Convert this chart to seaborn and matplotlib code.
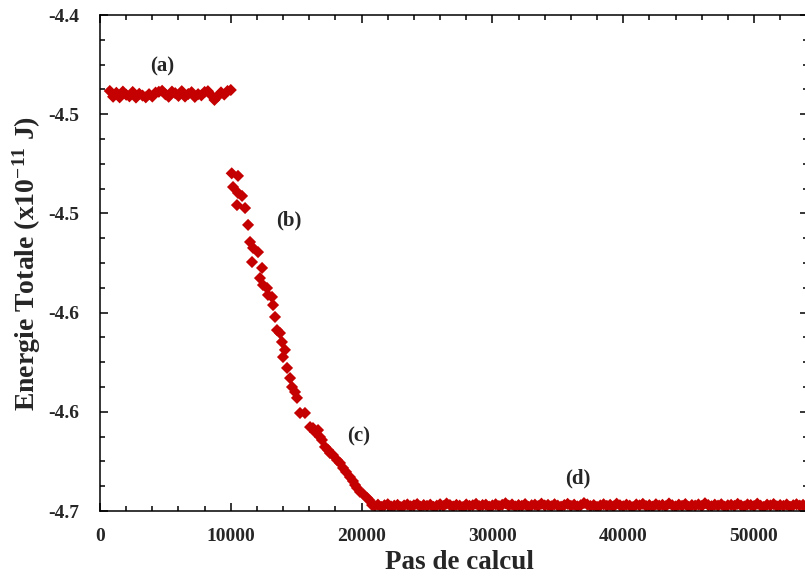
import numpy as np
import pandas as pd
import matplotlib
matplotlib.use('Agg')
import matplotlib.pyplot as plt
from matplotlib.ticker import MultipleLocator, FixedLocator
import seaborn as sns

# (a) equilibre initial, pas de 250
a_x = np.arange(750, 10001, 250)
a_y = [-4.4383, -4.4412, -4.4392, -4.4415, -4.4386, -4.4402, -4.4410, -4.4388, -4.4416, -4.4397,
       -4.4406, -4.4415, -4.4399, -4.4411, -4.4391, -4.4387, -4.4382, -4.4400, -4.4412, -4.4386,
       -4.4394, -4.4408, -4.4384, -4.4411, -4.4398, -4.4389, -4.4413, -4.4399, -4.4405, -4.4388,
       -4.4384, -4.4404, -4.4428, -4.4410, -4.4390, -4.4401, -4.4383, -4.4378]

# (b)-(c) descente
desc_x = [10070, 10550, 10170, 10550, 10860, 10470, 11090, 11320, 11470, 11700,
          12080, 11620, 12390, 12230, 12460, 12770, 12840, 13150, 13230, 13380,
          13530, 13760, 13910, 13990, 14140, 14300, 14530, 14680, 14910, 15060,
          15290, 15670, 16060, 16280, 16440, 16670, 16820, 16970, 17200, 17430,
          17580, 17810, 18120, 18350, 18580, 18810, 19110, 19340, 19500, 19650,
          19880, 20110, 20410, 20570, 20800]
desc_y = [-4.4798, -4.4811, -4.4867, -4.4897, -4.4912, -4.4958, -4.4973, -4.5058, -4.5144, -4.5174,
          -4.5195, -4.5245, -4.5275, -4.5326, -4.5361, -4.5376, -4.5411, -4.5421, -4.5462, -4.5522,
          -4.5588, -4.5603, -4.5648, -4.5724, -4.5688, -4.5779, -4.5830, -4.5875, -4.5900, -4.5930,
          -4.6006, -4.6006, -4.6077, -4.6082, -4.6102, -4.6092, -4.6127, -4.6142, -4.6177, -4.6192,
          -4.6208, -4.6218, -4.6243, -4.6258, -4.6283, -4.6303, -4.6329, -4.6349, -4.6369, -4.6384,
          -4.6404, -4.6414, -4.6434, -4.6444, -4.6470]

# (d) equilibre final, pas de 250
d_x = np.arange(21000, 54001, 250)
d_y = [-4.6474, -4.6468, -4.6479, -4.6471, -4.6466, -4.6477, -4.6473, -4.6469, -4.6480, -4.6472,
       -4.6467, -4.6476, -4.6471, -4.6465, -4.6478, -4.6470, -4.6474, -4.6468, -4.6479, -4.6473,
       -4.6466, -4.6475, -4.6462, -4.6470, -4.6477, -4.6469, -4.6473, -4.6480, -4.6467, -4.6474,
       -4.6471, -4.6464, -4.6476, -4.6470, -4.6468, -4.6478, -4.6472, -4.6466, -4.6475, -4.6469,
       -4.6461, -4.6473, -4.6467, -4.6477, -4.6470, -4.6474, -4.6465, -4.6479, -4.6471, -4.6468,
       -4.6475, -4.6463, -4.6472, -4.6469, -4.6476, -4.6466, -4.6473, -4.6478, -4.6470, -4.6464,
       -4.6474, -4.6468, -4.6477, -4.6471, -4.6460, -4.6467, -4.6475, -4.6470, -4.6479, -4.6472,
       -4.6466, -4.6474, -4.6469, -4.6477, -4.6463, -4.6471, -4.6476, -4.6468, -4.6473, -4.6480,
       -4.6467, -4.6472, -4.6464, -4.6475, -4.6470, -4.6478, -4.6466, -4.6473, -4.6469, -4.6476,
       -4.6462, -4.6471, -4.6477, -4.6468, -4.6474, -4.6465, -4.6479, -4.6470, -4.6473, -4.6467,
       -4.6475, -4.6461, -4.6470, -4.6476, -4.6468, -4.6473, -4.6466, -4.6478, -4.6471, -4.6469,
       -4.6474, -4.6464, -4.6472, -4.6477, -4.6467, -4.6470, -4.6475, -4.6463, -4.6473, -4.6479,
       -4.6468, -4.6472, -4.6465, -4.6476, -4.6470, -4.6474, -4.6467, -4.6478, -4.6471, -4.6466,
       -4.6473, -4.6469, -4.6475]

y_ticks = [-4.40, -4.45, -4.50, -4.55, -4.60, -4.65]
y_labels = ['-4.4', '-4.5', '-4.5', '-4.6', '-4.6', '-4.7']
x_ticks = [0, 10000, 20000, 30000, 40000, 50000]

labels = ['(a)', '(b)', '(c)', '(d)']
label_x = [4750, 14400, 19750, 36550]
label_y = [-4.4262, -4.5035, -4.6122, -4.6334]

df = pd.DataFrame({
    'pas': np.concatenate([a_x, desc_x, d_x]),
    'energie': np.concatenate([a_y, desc_y, d_y]),
})

sns.set_style('ticks')
plt.rcParams['font.family'] = ['Liberation Serif', 'DejaVu Serif']
plt.rcParams['font.weight'] = 'bold'
plt.rcParams['mathtext.fontset'] = 'custom'
plt.rcParams['mathtext.rm'] = 'Liberation Serif:bold'
plt.rcParams['mathtext.bf'] = 'Liberation Serif:bold'
plt.rcParams['mathtext.default'] = 'bf'

fig = plt.figure(figsize=(8.05, 5.79), dpi=100)
ax = fig.add_axes([100 / 805, 68 / 579, 708 / 805, 496 / 579])

sns.scatterplot(data=df, x='pas', y='energie', marker='D', s=38,
                color='#c40000', edgecolor='none', linewidth=0, ax=ax, legend=False)

for t, tx, ty in zip(labels, label_x, label_y):
    ax.text(tx, ty, t, ha='center', va='center', fontsize=15, fontweight='bold')

ax.set_xlim(0, 54128)
ax.set_ylim(-4.65, -4.40)
ax.yaxis.set_major_locator(FixedLocator(y_ticks))
ax.set_yticklabels(y_labels)
ax.yaxis.set_minor_locator(MultipleLocator(0.0125))
ax.xaxis.set_major_locator(FixedLocator(x_ticks))
ax.set_xticklabels([str(v) for v in x_ticks])
ax.xaxis.set_minor_locator(MultipleLocator(2000))

ax.tick_params(which='both', direction='in', top=True, right=True, width=1.1, color='black')
ax.tick_params(which='major', length=6)
ax.tick_params(which='minor', length=3.6)
ax.tick_params(axis='y', which='major', pad=15, labelsize=14)
ax.tick_params(axis='x', which='major', pad=12, labelsize=14)
for lab in ax.get_xticklabels() + ax.get_yticklabels():
    lab.set_fontweight('bold')
for sp in ax.spines.values():
    sp.set_linewidth(1.1)
    sp.set_color('black')

ax.set_xlabel('Pas de calcul', fontsize=19.5, fontweight='bold')
ax.set_ylabel('Energie Totale (x10$^{-11}$ J)', fontsize=20, fontweight='bold')
ax.xaxis.set_label_coords((459 - 100) / 708, -(550 - 511) / 496)
ax.yaxis.set_label_coords(-(100 - 43) / 708, 0.5)

fig.savefig('out.png', dpi=100)
